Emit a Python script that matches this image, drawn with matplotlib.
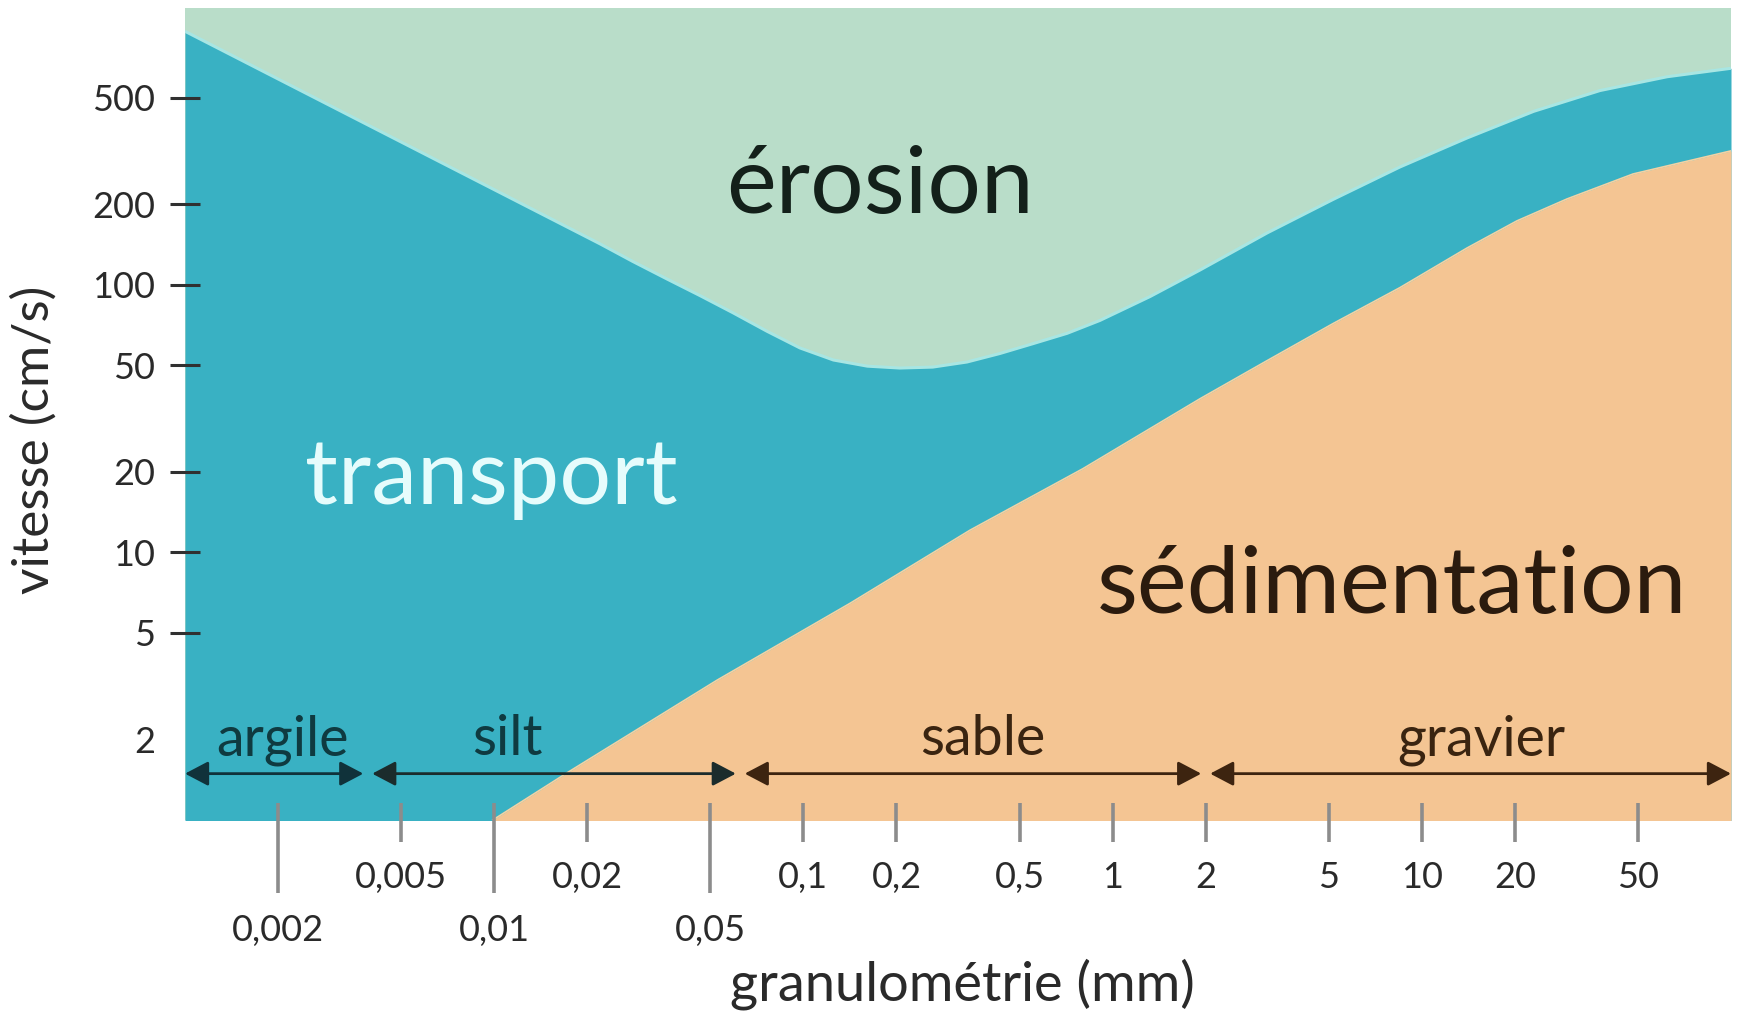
import matplotlib
matplotlib.use("Agg")
import matplotlib.pyplot as plt

# ---------------- data ----------------
# erosion threshold (upper boundary of the transport field), grain size mm -> cm/s
x_erosion = [0.001, 0.0220, 0.0281, 0.0362, 0.0463, 0.0592, 0.0762, 0.0975, 0.125,
             0.161, 0.205, 0.262, 0.338, 0.432, 0.553, 0.713, 0.910, 1.32, 1.92,
             3.16, 5.16, 8.49, 14.0, 23.0, 37.7, 62.2, 100]
v_erosion = [884, 142, 122, 105, 91, 78.5, 67.0, 58.0, 52.3,
             49.6, 48.8, 49.2, 51.4, 55.3, 60.2, 65.8, 73.5, 90.2, 113.5,
             156, 208, 275, 353, 444, 531, 598, 643]
# sedimentation threshold (lower boundary of the transport field)
x_sedim = [0.0099, 0.0172, 0.0526, 0.1416, 0.346, 0.80, 1.92, 3.16, 5.16, 8.49,
           14.0, 20.3, 29.5, 48.2, 100]
v_sedim = [1.0, 1.50, 3.33, 6.45, 12.1, 20.5, 37.5, 52.0, 71.5, 97.4,
           137, 173, 209, 259, 316]

# grain-size classes
classes = ["argile", "silt", "sable", "gravier"]
class_bounds = [0.001, 0.0039, 0.0625, 2, 100]

# axis ticks
x_ticks = [0.002, 0.005, 0.01, 0.02, 0.05, 0.1, 0.2, 0.5, 1, 2, 5, 10, 20, 50]
x_tick_labels = ["0,002", "0,005", "0,01", "0,02", "0,05", "0,1", "0,2", "0,5",
                 "1", "2", "5", "10", "20", "50"]
x_long_ticks = [0.002, 0.01, 0.05]
y_ticks = [2, 5, 10, 20, 50, 100, 200, 500]
y_tick_labels = ["2", "5", "10", "20", "50", "100", "200", "500"]

# ---------------- style ----------------
W, H = 1738, 1021
DPI = 100
FONT = ["Lato", "DejaVu Sans"]
plt.rcParams["font.family"] = FONT

C_EROSION = "#b9ddc9"
C_TRANSPORT = "#39b1c3"
C_SEDIM = "#f4c593"
C_EDGE = "#a8e6e3"


def fx(px):
    return px / W


def fy(py):
    return 1 - py / H


fig = plt.figure(figsize=(W / DPI, H / DPI), dpi=DPI)
ax = fig.add_axes([fx(185), fy(820), (1731 - 185) / W, (820 - 8) / H])
ax.set_xscale("log")
ax.set_yscale("log")
ax.set_xlim(0.001, 100)
ax.set_ylim(1, 1080)
ax.set_facecolor(C_EROSION)
for s in ax.spines.values():
    s.set_visible(False)

# regions
ax.fill_between(x_erosion, 0.5, v_erosion, color=C_TRANSPORT, lw=0, zorder=1)
ax.plot(x_erosion, v_erosion, color=C_EDGE, lw=2.2, zorder=2,
        solid_capstyle="butt", solid_joinstyle="round")
ax.fill_between(x_sedim, 0.5, v_sedim, color=C_SEDIM, lw=0, zorder=3)
ax.plot(x_sedim, v_sedim, color="#f3d2a4", lw=1.2, zorder=3,
        solid_joinstyle="round")

# ---------------- x axis ----------------
ax.set_xticks(x_ticks)
ax.set_xticklabels(x_tick_labels)
ax.minorticks_off()
ax.tick_params(axis="x", length=0, labelsize=26, labelcolor="#2a2a2a")
for t, val in zip(ax.xaxis.get_major_ticks(), x_ticks):
    t.set_pad(68 if val in x_long_ticks else 29.5)
xtr = ax.get_xaxis_transform()
for val in x_ticks:
    y_end = -0.0899 if val in x_long_ticks else -0.0271
    ax.plot([val, val], [0.0209, y_end], transform=xtr, color="#8c8c8c",
            lw=2.6, clip_on=False, zorder=6, solid_capstyle="butt")

# ---------------- y axis ----------------
ax.set_yticks(y_ticks)
ax.set_yticklabels(y_tick_labels)
ax.yaxis.set_minor_locator(matplotlib.ticker.NullLocator())
ax.tick_params(axis="y", direction="inout", length=22, width=2.2, color="#303030",
               pad=10.5, labelsize=26, labelcolor="#2a2a2a")
for t, val in zip(ax.yaxis.get_major_ticks(), y_ticks):
    if val == 2:
        t.tick1line.set_visible(False)
    t.tick1line.set_zorder(7)

# ---------------- class arrows ----------------
y_arrow = 1.49
arrow_cols = ["#10323a", "#1b2c2c", "#3d2410", "#3d2410"]
for i, name in enumerate(classes):
    a, b = class_bounds[i], class_bounds[i + 1]
    sa = 0 if i == 0 else 3.2
    sb = 0 if i == len(classes) - 1 else 3.2
    ax.annotate("", xy=(b, y_arrow), xytext=(a, y_arrow),
                arrowprops=dict(arrowstyle="<|-|>,head_length=0.95,head_width=0.5",
                                mutation_scale=15, color=arrow_cols[i], lw=2.0,
                                shrinkA=sa, shrinkB=sb),
                zorder=8, annotation_clip=False)

class_label_px = {"argile": 283, "silt": 507, "sable": 983, "gravier": 1481}
class_cols = {"argile": "#0f3a40", "silt": "#0f3a40", "sable": "#3a2410", "gravier": "#3a2410"}
for name in classes:
    fig.text(fx(class_label_px[name]), fy(755), name, ha="center", va="baseline",
             fontsize=40, color=class_cols[name], zorder=9)

# ---------------- big region labels ----------------
fig.text(fx(880), fy(213), "érosion", ha="center", va="baseline",
         fontsize=68, color="#13201a")
fig.text(fx(491), fy(504), "transport", ha="center", va="baseline",
         fontsize=66, color="#e6fcfc")
fig.text(fx(1392), fy(613), "sédimentation", ha="center", va="baseline",
         fontsize=68, color="#2b1b0e")

# ---------------- axis titles ----------------
fig.text(fx(962), fy(1000), "granulométrie (mm)", ha="center", va="baseline",
         fontsize=39, color="#2a2a2a")
fig.text(fx(34), fy(440), "vitesse (cm/s)", ha="center", va="center",
         rotation=90, fontsize=37, color="#2a2a2a")

fig.savefig("out.png", dpi=DPI, facecolor="white")
